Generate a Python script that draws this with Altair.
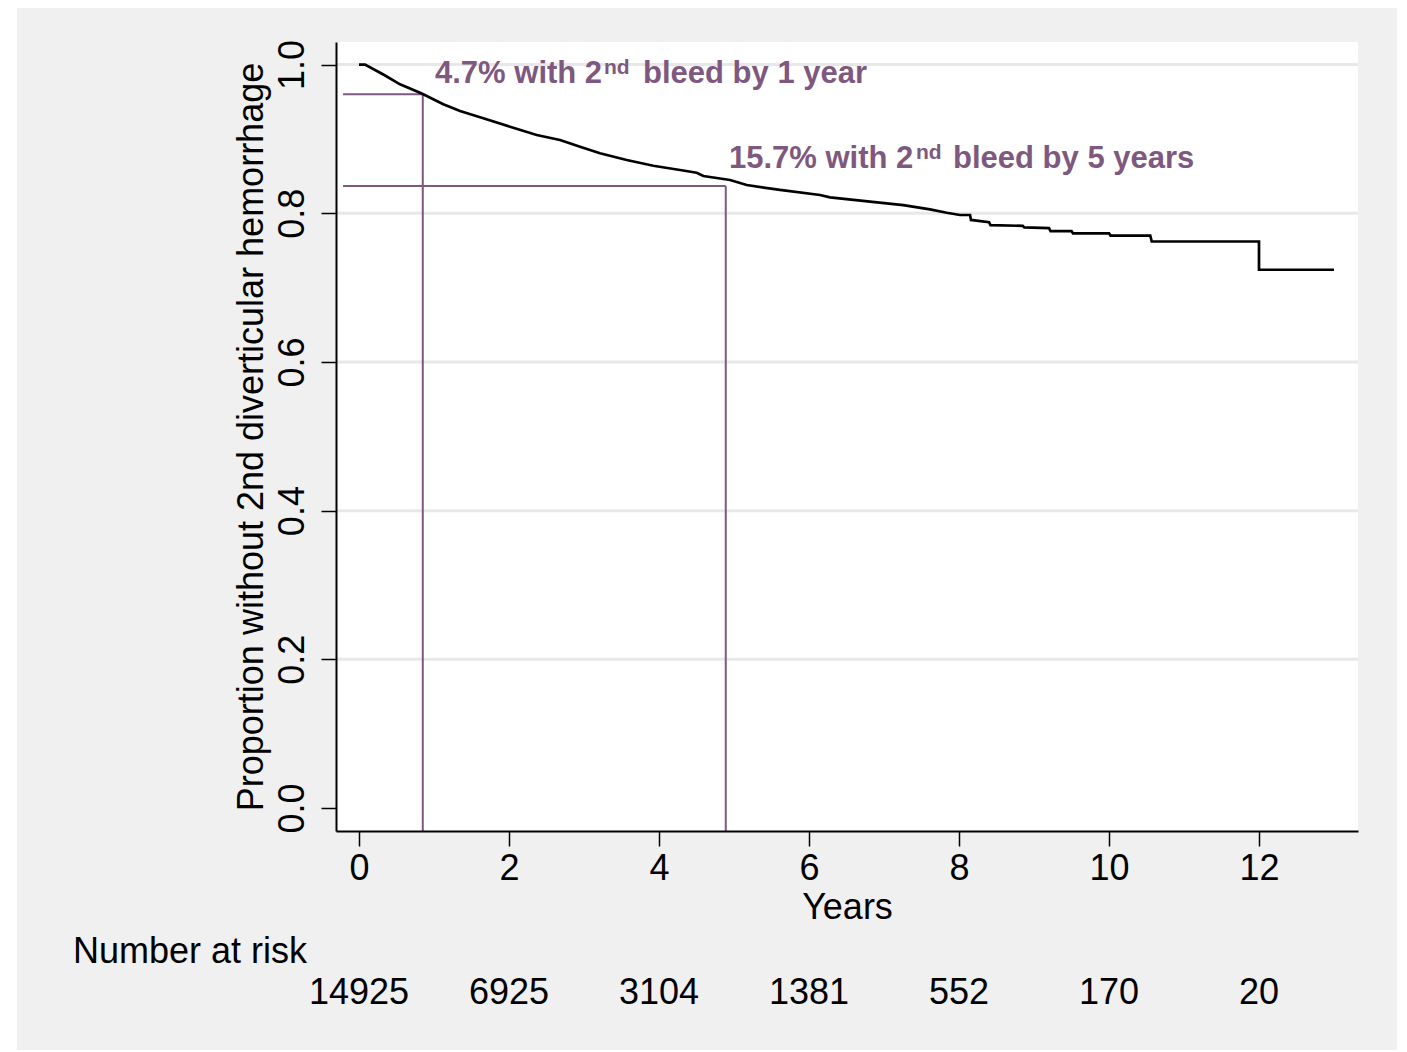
import altair as alt
import pandas as pd

# Kaplan-Meier curve
years = [0.0, 0.08, 0.324, 0.547, 0.836, 1.124, 1.347, 1.657, 2.013, 2.369, 2.68, 2.947,
         3.213, 3.569, 3.924, 4.28, 4.503, 4.591, 4.947, 5.169, 5.613, 6.147, 6.28, 6.813,
         7.257, 7.613, 7.836, 8.013, 8.147, 8.16, 8.40, 8.42, 8.85, 8.87, 9.2, 9.22, 9.5,
         9.52, 10.0, 10.02, 10.55, 10.57, 12.0, 12.0, 13.0]
survival = [1.0, 1.0, 0.9866, 0.9734, 0.961, 0.9465, 0.9375, 0.9277, 0.9163, 0.9052, 0.8985,
            0.8894, 0.8806, 0.8716, 0.8639, 0.8581, 0.8545, 0.8501, 0.8447, 0.838, 0.8313,
            0.8245, 0.8214, 0.8155, 0.811, 0.8052, 0.8007, 0.7976, 0.7976, 0.791, 0.788,
            0.784, 0.783, 0.781, 0.780, 0.776, 0.776, 0.773, 0.773, 0.770, 0.770, 0.762,
            0.762, 0.724, 0.724]

# reference lines (time, proportion)
ref_time = [0.85, 4.89]
ref_prop = [0.960, 0.8366]

# axis ticks and risk table
x_ticks = [0, 2, 4, 6, 8, 10, 12]
y_ticks = [0.0, 0.2, 0.4, 0.6, 0.8, 1.0]
grid_vals = [0.2, 0.4, 0.6, 0.8, 1.0]
risk_time = [0, 2, 4, 6, 8, 10, 12]
risk_n = ["14925", "6925", "3104", "1381", "552", "170", "20"]

# annotation pieces
ann_main = ["4.7% with 2", "15.7% with 2"]
ann_sup = ["nd", "nd"]
ann_tail = ["bleed by 1 year", "bleed by 5 years"]
ann_x_main = [1.013, 4.933]
ann_x_sup = [3.267, 7.427]
ann_x_tail = [3.787, 7.92]
ann_y_main = [0.9751, 0.8611]
ann_y_sup = [0.9872, 0.8732]

X_DOM = [-0.307, 13.32]
Y_DOM = [-0.0309, 1.0303]
PURPLE = "#7e587e"
FONT = "Liberation Sans"
FS = 36
W, H = 1022, 789

xs = alt.Scale(domain=X_DOM, nice=False, zero=False)
ys = alt.Scale(domain=Y_DOM, nice=False, zero=False)

km = pd.DataFrame({"t": years, "s": survival, "o": list(range(len(years)))})
grid = pd.DataFrame({"g": grid_vals})
hlines = pd.DataFrame({"x1": [X_DOM[0] + 0.094] * 2, "x2": ref_time, "y": ref_prop})
vlines = pd.DataFrame({"x": ref_time, "y1": ref_prop, "y2": [Y_DOM[0]] * 2})
risk = pd.DataFrame({"t": risk_time, "n": risk_n})
ann = pd.DataFrame({"m": ann_main, "s": ann_sup, "tl": ann_tail,
                    "xm": ann_x_main, "xs": ann_x_sup, "xt": ann_x_tail,
                    "ym": ann_y_main, "ysup": ann_y_sup})
one = pd.DataFrame({"k": [0]})

outer_bg = alt.Chart(one).mark_rect(color="#f0f0f0").encode(
    x=alt.value(-319), x2=alt.value(1061), y=alt.value(-34), y2=alt.value(1008))
plot_bg = alt.Chart(one).mark_rect(color="white").encode(
    x=alt.value(0), x2=alt.value(W), y=alt.value(0), y2=alt.value(H))

base_axes = alt.Chart(km).mark_line(opacity=0).encode(
    x=alt.X("t:Q", scale=xs, title="Years",
            axis=alt.Axis(values=x_ticks, format="d", grid=False, tickSize=15,
                          labelPadding=33, labelBaseline="alphabetic", labelFontSize=FS,
                          labelFont=FONT, labelColor="black", titleFont=FONT,
                          titleFontSize=FS, titleFontWeight="normal", titleColor="black",
                          titleBaseline="alphabetic", titleY=87, domainColor="black",
                          domainWidth=2, tickColor="black", tickWidth=1.5,
                          labelFlush=False, zindex=1)),
    y=alt.Y("s:Q", scale=ys, title="Proportion without 2nd diverticular hemorrhage",
            axis=alt.Axis(values=y_ticks, format=".1f", grid=False, tickSize=15,
                          labelAngle=270, labelAlign="center", labelBaseline="alphabetic",
                          labelPadding=18, labelFontSize=FS, labelFont=FONT,
                          labelColor="black", titleFont=FONT, titleFontSize=FS,
                          titleFontWeight="normal", titleColor="black", titleAngle=270,
                          titleAlign="center", titleBaseline="alphabetic", titleX=-74,
                          titleY=394.5, domainColor="black", domainWidth=2,
                          tickColor="black", tickWidth=1.5, labelFlush=False, zindex=1)),
)

grid_layer = alt.Chart(grid).mark_rule(color="#e8e8e8", strokeWidth=3).encode(
    y=alt.Y("g:Q", scale=ys), x=alt.value(0), x2=alt.value(W))

h_layer = alt.Chart(hlines).mark_rule(color=PURPLE, strokeWidth=2).encode(
    x=alt.X("x1:Q", scale=xs), x2="x2:Q", y=alt.Y("y:Q", scale=ys))
v_layer = alt.Chart(vlines).mark_rule(color=PURPLE, strokeWidth=2).encode(
    x=alt.X("x:Q", scale=xs), y=alt.Y("y1:Q", scale=ys), y2="y2:Q")

curve = alt.Chart(km).mark_line(color="black", strokeWidth=2.7, interpolate="linear").encode(
    x=alt.X("t:Q", scale=xs), y=alt.Y("s:Q", scale=ys), order="o:Q")

t_main = alt.Chart(ann).mark_text(align="left", baseline="alphabetic", font=FONT,
                                  fontWeight="bold", fontSize=31, color=PURPLE).encode(
    x=alt.X("xm:Q", scale=xs), y=alt.Y("ym:Q", scale=ys), text="m:N")
t_sup = alt.Chart(ann).mark_text(align="left", baseline="alphabetic", font=FONT,
                                 fontWeight="bold", fontSize=21, color=PURPLE).encode(
    x=alt.X("xs:Q", scale=xs), y=alt.Y("ysup:Q", scale=ys), text="s:N")
t_tail = alt.Chart(ann).mark_text(align="left", baseline="alphabetic", font=FONT,
                                  fontWeight="bold", fontSize=31, color=PURPLE).encode(
    x=alt.X("xt:Q", scale=xs), y=alt.Y("ym:Q", scale=ys), text="tl:N")

risk_title = alt.Chart(pd.DataFrame({"l": ["Number at risk"]})).mark_text(
    align="left", baseline="alphabetic", font=FONT, fontSize=FS, color="black").encode(
    x=alt.value(-263), y=alt.value(921), text="l:N")
risk_nums = alt.Chart(risk).mark_text(
    align="center", baseline="alphabetic", font=FONT, fontSize=FS, color="black").encode(
    x=alt.X("t:Q", scale=xs), y=alt.value(962), text="n:N")

chart = alt.layer(
    outer_bg, plot_bg, base_axes, grid_layer, h_layer, v_layer, curve,
    t_main, t_sup, t_tail, risk_title, risk_nums
).properties(
    width=W, height=H,
    autosize=alt.AutoSizeParams(type="none"),
    padding={"left": 328, "top": 34, "right": 39, "bottom": 219},
).configure(background="white").configure_view(stroke=None)

chart.save("out.html", embed_options={"renderer": "svg", "actions": False})
